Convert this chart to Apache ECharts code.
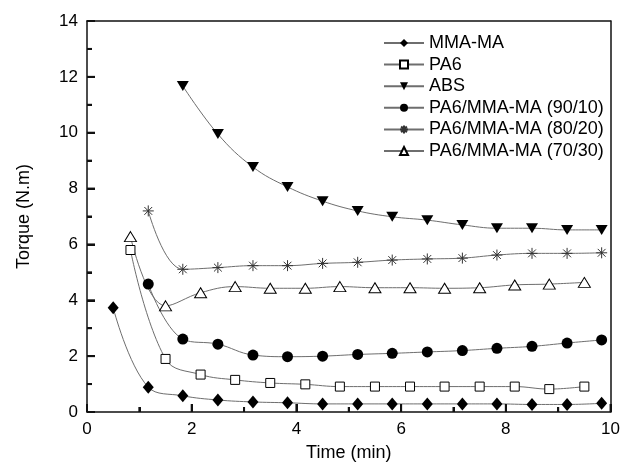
<!DOCTYPE html>
<html>
<head>
<meta charset="utf-8">
<script src="https://cdn.jsdelivr.net/npm/echarts@6/dist/echarts.min.js"></script>
<style>html,body{margin:0;padding:0;background:#fff}#c{width:623px;height:472px}</style>
</head>
<body>
<div id="c"></div>
<script>
var seriesNames = ['MMA-MA', 'PA6', 'ABS', 'PA6/MMA-MA (90/10)', 'PA6/MMA-MA (80/20)', 'PA6/MMA-MA (70/30)'];
var xTicks = [0, 2, 4, 6, 8, 10];
var xMinorTicks = [1, 3, 5, 7, 9];
var yTicks = [0, 2, 4, 6, 8, 10, 12, 14];
var yMinorTicks = [1, 3, 5, 7, 9, 11, 13];

var tMMA = [0.5, 1.17, 1.83, 2.5, 3.17, 3.83, 4.5, 5.17, 5.83, 6.5, 7.17, 7.83, 8.5, 9.17, 9.83];
var vMMA = [3.73, 0.89, 0.58, 0.43, 0.36, 0.33, 0.29, 0.29, 0.29, 0.29, 0.29, 0.29, 0.27, 0.27, 0.31];

var tPA6 = [0.83, 1.5, 2.17, 2.83, 3.5, 4.17, 4.83, 5.5, 6.17, 6.83, 7.5, 8.17, 8.83, 9.5];
var vPA6 = [5.8, 1.9, 1.34, 1.15, 1.04, 0.99, 0.91, 0.91, 0.91, 0.91, 0.91, 0.91, 0.82, 0.91];

var tABS = [1.83, 2.5, 3.17, 3.83, 4.5, 5.17, 5.83, 6.5, 7.17, 7.83, 8.5, 9.17, 9.83];
var vABS = [11.67, 9.95, 8.77, 8.06, 7.55, 7.2, 6.99, 6.87, 6.7, 6.58, 6.58, 6.52, 6.52];

var t9010 = [1.17, 1.83, 2.5, 3.17, 3.83, 4.5, 5.17, 5.83, 6.5, 7.17, 7.83, 8.5, 9.17, 9.83];
var v9010 = [4.58, 2.61, 2.43, 2.04, 1.98, 2.0, 2.06, 2.1, 2.15, 2.2, 2.28, 2.35, 2.47, 2.58];

var t8020 = [1.17, 1.83, 2.5, 3.17, 3.83, 4.5, 5.17, 5.83, 6.5, 7.17, 7.83, 8.5, 9.17, 9.83];
var v8020 = [7.2, 5.11, 5.17, 5.24, 5.24, 5.32, 5.36, 5.44, 5.48, 5.51, 5.62, 5.68, 5.68, 5.7];

var t7030 = [0.83, 1.5, 2.17, 2.83, 3.5, 4.17, 4.83, 5.5, 6.17, 6.83, 7.5, 8.17, 8.83, 9.5];
var v7030 = [6.28, 3.8, 4.27, 4.49, 4.43, 4.43, 4.49, 4.45, 4.45, 4.43, 4.45, 4.55, 4.58, 4.64];

function pairs(t, v) { return t.map(function (x, i) { return [x, v[i]]; }); }

var FONT = 'Liberation Sans, Arial, sans-serif';
var starPath = 'path://M10,0 L10,20 M0,10 L20,10 M2.9,2.9 L17.1,17.1 M2.9,17.1 L17.1,2.9';

function mk(name, data, symbol, size, filled, extra) {
  var s = {
    name: name,
    type: 'line',
    data: data,
    smooth: 0.4,
    symbol: symbol,
    symbolSize: size,
    showAllSymbol: true,
    lineStyle: { color: '#6e6e6e', width: 1 },
    itemStyle: filled ? { color: '#000', borderColor: '#000', borderWidth: 0 }
                      : { color: '#fff', borderColor: '#000', borderWidth: 1 },
    emphasis: { disabled: true },
    z: 3
  };
  if (extra) for (var k in extra) s[k] = extra[k];
  return s;
}

var lineCol = '#111';

// tick marks: [axis (0 = x, 1 = y), value, length]
var tickData = [];
xTicks.forEach(function (v) { tickData.push([0, v, 8]); });
xMinorTicks.forEach(function (v) { tickData.push([0, v, 5]); });
yTicks.forEach(function (v) { tickData.push([1, v, 8]); });
yMinorTicks.forEach(function (v) { tickData.push([1, v, 5]); });

function renderTick(params, api) {
  var which = api.value(0), v = api.value(1), len = api.value(2);
  var p, shape;
  if (which === 0) {
    p = api.coord([v, yTicks[0]]);
    shape = { x1: p[0], y1: p[1], x2: p[0], y2: p[1] - len };
  } else {
    p = api.coord([xTicks[0], v]);
    shape = { x1: p[0], y1: p[1], x2: p[0] + len, y2: p[1] };
  }
  return { type: 'line', shape: shape, style: { stroke: lineCol, lineWidth: 2 }, silent: true };
}

function mainAxis(name, max, gap, rotate) {
  return {
    type: 'value', min: 0, max: max, interval: 2,
    name: name, nameLocation: 'middle', nameGap: gap, nameRotate: rotate,
    nameTextStyle: { fontFamily: FONT, fontSize: 18, color: '#000' },
    axisLine: { show: true, onZero: false, lineStyle: { color: lineCol, width: 1.5 } },
    axisTick: { show: true, inside: true, length: 8, lineStyle: { color: lineCol, width: 2 } },
    minorTick: { show: true, splitNumber: 2, length: 5, lineStyle: { color: lineCol, width: 2 } },
    axisLabel: { fontFamily: FONT, fontSize: 17, color: '#000', margin: 9 },
    splitLine: { show: false }
  };
}
function frameAxis(max, pos) {
  return {
    type: 'value', min: 0, max: max, interval: 2, position: pos,
    axisLine: { show: true, onZero: false, lineStyle: { color: lineCol, width: 1.5 } },
    axisTick: { show: false }, axisLabel: { show: false }, splitLine: { show: false }
  };
}

var series = [
  mk(seriesNames[0], pairs(tMMA, vMMA), 'diamond', [11, 13], true),
  mk(seriesNames[1], pairs(tPA6, vPA6), 'rect', 9, false),
  mk(seriesNames[2], pairs(tABS, vABS), 'triangle', [12, 10], true, { symbolRotate: 180 }),
  mk(seriesNames[3], pairs(t9010, v9010), 'circle', 11, true),
  mk(seriesNames[4], pairs(t8020, v8020), starPath, 11, false, { itemStyle: { color: 'none', borderColor: '#333', borderWidth: 1 } }),
  mk(seriesNames[5], pairs(t7030, v7030), 'triangle', [12, 10], false),
  {
    name: 'ticks', type: 'custom', renderItem: renderTick, data: tickData,
    encode: { x: 1, y: 2 }, silent: true, clip: false, z: 10, tooltip: { show: false }
  }
];

var chart = echarts.init(document.getElementById('c'), null, { renderer: 'canvas' });
chart.setOption({
  animation: false,
  backgroundColor: '#fff',
  textStyle: { fontFamily: FONT },
  grid: { left: 87, top: 21, right: 11, bottom: 60 },
  legend: {
    orient: 'vertical',
    left: 378,
    top: 29,
    itemWidth: 40,
    itemHeight: 10,
    itemGap: 3.6,
    selectedMode: false,
    textStyle: { fontFamily: FONT, fontSize: 18, color: '#000', lineHeight: 18 },
    data: seriesNames
  },
  xAxis: [mainAxis('Time (min)', xTicks[xTicks.length - 1], 32, 0), frameAxis(xTicks[xTicks.length - 1], 'top')],
  yAxis: [mainAxis('Torque (N.m)', yTicks[yTicks.length - 1], 54, 90), frameAxis(yTicks[yTicks.length - 1], 'right')],
  series: series
});
</script>
</body>
</html>
